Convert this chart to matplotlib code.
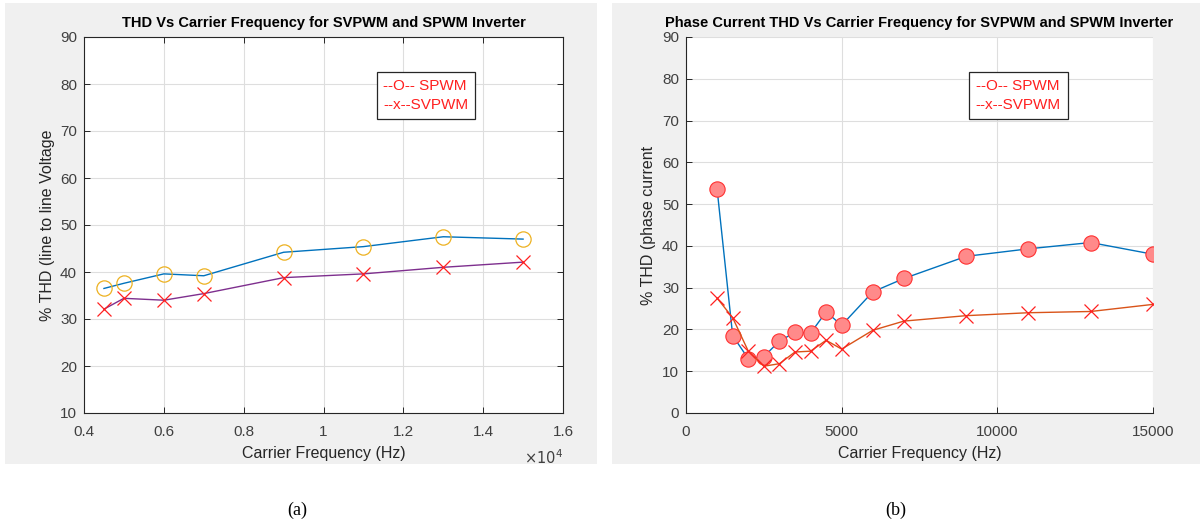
import matplotlib.pyplot as plt
from matplotlib.patches import Rectangle

plt.rcParams['font.family'] = ['Liberation Sans', 'DejaVu Sans']

# ── Data ──────────────────────────────────────────────────────────────────────
freq_v      = [4500, 5000, 6000, 7000, 9000, 11000, 13000, 15000]
spwm_v      = [36.5, 37.6, 39.6, 39.2, 44.2, 45.4, 47.5, 47.0]
svpwm_v     = [32.1, 34.4, 34.0, 35.4, 38.8, 39.6, 41.0, 42.1]

freq_i      = [1000, 1500, 2000, 2500, 3000, 3500, 4000, 4500, 5000,
               6000, 7000, 9000, 11000, 13000, 15000]
spwm_i      = [53.5, 18.5, 13.0, 13.5, 17.2, 19.3, 19.1, 24.2, 21.0,
               29.0, 32.2, 37.5, 39.3, 40.8, 38.0]
svpwm_i     = [27.5, 22.8, 14.8, 11.2, 11.8, 14.6, 14.8, 17.4, 15.3,
               19.8, 22.0, 23.3, 24.0, 24.3, 26.0]

LEGEND_TXT  = "--O-- SPWM\n--x--SVPWM"
BLUE, PURPLE, ORANGE = "#0072BD", "#7E2F8E", "#D95319"
TXT = "#262626"

# ── Figure ────────────────────────────────────────────────────────────────────
W, H = 1200, 526
fig = plt.figure(figsize=(W / 100, H / 100), dpi=100)
fig.patch.set_facecolor("white")

def px_rect(x0, y0, x1, y1):
    return [x0 / W, 1 - y1 / H, (x1 - x0) / W, (y1 - y0) / H]

for x0, x1 in [(5, 597), (612, 1200)]:
    r = px_rect(x0, 3, x1, 464)
    fig.patches.append(Rectangle((r[0], r[1]), r[2], r[3], transform=fig.transFigure,
                                 facecolor="#f0f0f0", edgecolor="none", zorder=-10))

ax1 = fig.add_axes(px_rect(84, 37, 563, 413))
ax2 = fig.add_axes(px_rect(686, 37, 1153, 413))

def style(ax, box):
    ax.set_facecolor("white")
    ax.grid(True, color="#dedede", lw=0.8)
    ax.set_axisbelow(True)
    for s in ax.spines.values():
        s.set_color(TXT)
        s.set_linewidth(0.8)
    if not box:
        ax.spines["top"].set_visible(False)
        ax.spines["right"].set_visible(False)
    ax.tick_params(direction="in", length=4, width=0.7, colors=TXT,
                   labelsize=11, labelcolor="#404040",
                   top=box, right=box)
    ax.tick_params(axis="x", pad=9)
    ax.tick_params(axis="y", pad=5)

# ── Plot (a): line-to-line voltage THD ────────────────────────────────────────
style(ax1, True)
ax1.plot(freq_v, spwm_v, color=BLUE, lw=1.0, marker="o", ms=11,
         mfc="none", mec="#EDB120", mew=0.9)
ax1.plot(freq_v, svpwm_v, color=PURPLE, lw=1.0, marker="x", ms=10,
         mec="#FF2020", mew=0.9)
ax1.set_xlim(4000, 16000)
ax1.set_ylim(10, 90)
ax1.set_xticks([4000, 6000, 8000, 10000, 12000, 14000, 16000])
ax1.set_xticklabels(["0.4", "0.6", "0.8", "1", "1.2", "1.4", "1.6"])
ax1.set_yticks(range(10, 91, 10))
ax1.set_title("THD Vs Carrier Frequency for SVPWM and SPWM Inverter",
              fontsize=10.5, fontweight="bold", color="black", pad=7)
ax1.set_xlabel("Carrier Frequency (Hz)", fontsize=11.5, color=TXT, labelpad=5)
ax1.set_ylabel("% THD (line to line Voltage", fontsize=11.5, color=TXT, labelpad=4)
ax1.text(1.0, -0.095, r"$\times10^4$", transform=ax1.transAxes, ha="right",
         va="top", fontsize=10.5, color="#404040")
ax1.text(0.625, 0.845, LEGEND_TXT, transform=ax1.transAxes, ha="left", va="center",
         fontsize=11, color="#FF2020", linespacing=1.45,
         bbox=dict(boxstyle="square,pad=0.45", fc="white", ec=TXT, lw=0.9))

# ── Plot (b): phase current THD ───────────────────────────────────────────────
style(ax2, False)
ax2.plot(freq_i, spwm_i, color=BLUE, lw=1.0, marker="o", ms=11,
         mfc="#FF8A8A", mec="#FF3030", mew=0.8)
ax2.plot(freq_i, svpwm_i, color=ORANGE, lw=1.0, marker="x", ms=10,
         mec="#FF2020", mew=0.9)
ax2.set_xlim(0, 15000)
ax2.set_ylim(0, 90)
ax2.set_xticks([0, 5000, 10000, 15000])
ax2.set_yticks(range(0, 91, 10))
ax2.set_title("Phase Current THD Vs Carrier Frequency for SVPWM and SPWM Inverter",
              fontsize=10.5, fontweight="bold", color="black", pad=7)
ax2.set_xlabel("Carrier Frequency (Hz)", fontsize=11.5, color=TXT, labelpad=5)
ax2.set_ylabel("% THD (phase current", fontsize=11.5, color=TXT, labelpad=4)
ax2.text(0.62, 0.845, LEGEND_TXT, transform=ax2.transAxes, ha="left", va="center",
         fontsize=11, color="#FF2020", linespacing=1.45,
         bbox=dict(boxstyle="square,pad=0.45", fc="white", ec=TXT, lw=0.9))

# ── Captions ──────────────────────────────────────────────────────────────────
fig.text(297 / W, 1 - 510 / H, "(a)", ha="center", va="center",
         fontsize=13, family="Liberation Serif")
fig.text(896 / W, 1 - 510 / H, "(b)", ha="center", va="center",
         fontsize=13, family="Liberation Serif")

fig.savefig("out.png", dpi=100)
